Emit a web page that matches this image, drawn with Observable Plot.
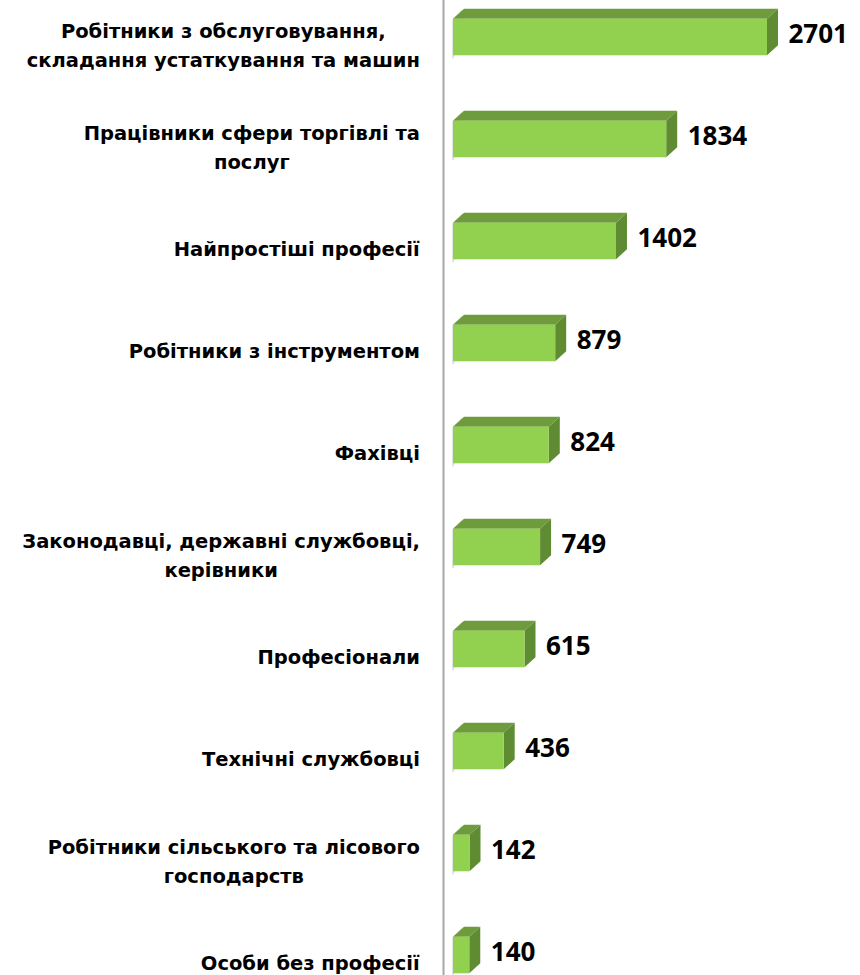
<!DOCTYPE html>
<html>
<head>
<meta charset="utf-8">
<script src="https://cdn.jsdelivr.net/npm/d3@7"></script>
<script src="https://cdn.jsdelivr.net/npm/@observablehq/plot@0.6"></script>
<style>
  html, body { margin: 0; padding: 0; background: #fff; }
  #chart svg { display: block; }
</style>
</head>
<body>
<div id="chart"></div>
<script>
const categories = [
  "Робітники з обслуговування,\nскладання устаткування та машин",
  "Працівники сфери торгівлі та\nпослуг",
  "Найпростіші професії",
  "Робітники з інструментом",
  "Фахівці",
  "Законодавці, державні службовці,\nкерівники",
  "Професіонали",
  "Технічні службовці",
  "Робітники сільського та лісового\nгосподарств",
  "Особи без професії"
];
const values = [2701, 1834, 1402, 879, 824, 749, 615, 436, 142, 140];

const data = categories.map((c, i) => ({category: c, value: values[i]}));

const W = 860, H = 975;
const depthX = 11, depthY = 10;

const plot = Plot.plot({
  width: W,
  height: H,
  marginLeft: 453,
  marginRight: 0,
  marginTop: 0,
  marginBottom: 0,
  x: {domain: [0, 3500], range: [453, 453 + 3500 * 0.11625], axis: null},
  y: {domain: categories, range: [-16.2, 1007.8], padding: 0, axis: null},
  style: {background: "#fff", overflow: "visible"},
  marks: [
    Plot.ruleX([0], {dx: -10, stroke: "#a8a8a8", strokeWidth: 2}),
    Plot.barX(data, {x: "value", y: "category", fill: "#92d050", insetTop: 32.7, insetBottom: 32.7}),
    Plot.text(data, {
      x: 0, y: "category", text: "category",
      textAnchor: "middle", dy: 5.5, lineHeight: 1.5,
      fontFamily: "DejaVu Sans", fontWeight: "bold", fontSize: 19.5, fill: "#000"
    }),
    Plot.text(data, {
      x: "value", y: "category", text: d => String(d.value),
      textAnchor: "start", dx: 21, dy: -2.5,
      fontFamily: "Open Sans", fontWeight: "bold", fontSize: 26, fill: "#000"
    })
  ]
});

document.getElementById("chart").appendChild(plot);

try {
  const svg = d3.select(plot);
  let axisX = null;
  svg.selectAll("g[aria-label='bar'] rect").each(function() {
    const r = d3.select(this);
    const x = +r.attr("x"), y = +r.attr("y"), w = +r.attr("width"), h = +r.attr("height");
    axisX = x;
    const g = d3.select(this.parentNode);
    const node = this;
    const pts = a => a.map(p => p.join(",")).join(" ");
    g.insert("polygon", () => node)
      .attr("points", pts([[x - 1, y + 1], [x + depthX - 2, y - depthY + 1], [x + depthX - 2, y - depthY + 4], [x + 1, y + h + 3], [x - 1, y + h + 3]]))
      .attr("fill", "#d0d0d0").attr("opacity", 0.6);
    g.insert("polygon", () => node)
      .attr("points", pts([[x, y], [x + depthX, y - depthY], [x + w + depthX, y - depthY], [x + w, y]]))
      .attr("fill", "#6e9b3c");
    g.insert("polygon", () => node)
      .attr("points", pts([[x + w, y], [x + w + depthX, y - depthY], [x + w + depthX, y + h - depthY], [x + w, y + h]]))
      .attr("fill", "#5f8c33");
  });

  const svgRect = plot.getBoundingClientRect();
  const target = (axisX != null ? axisX : 453) - 33;
  const textGroups = svg.selectAll("g[aria-label='text']").nodes();
  d3.select(textGroups[0]).selectAll("text").each(function() {
    const b = this.getBoundingClientRect();
    const shift = target - (b.right - svgRect.left);
    const t = this.getAttribute("transform") || "";
    this.setAttribute("transform", `translate(${shift},0) ${t}`);
  });
} catch (e) { console.error(e); }
</script>
</body>
</html>
